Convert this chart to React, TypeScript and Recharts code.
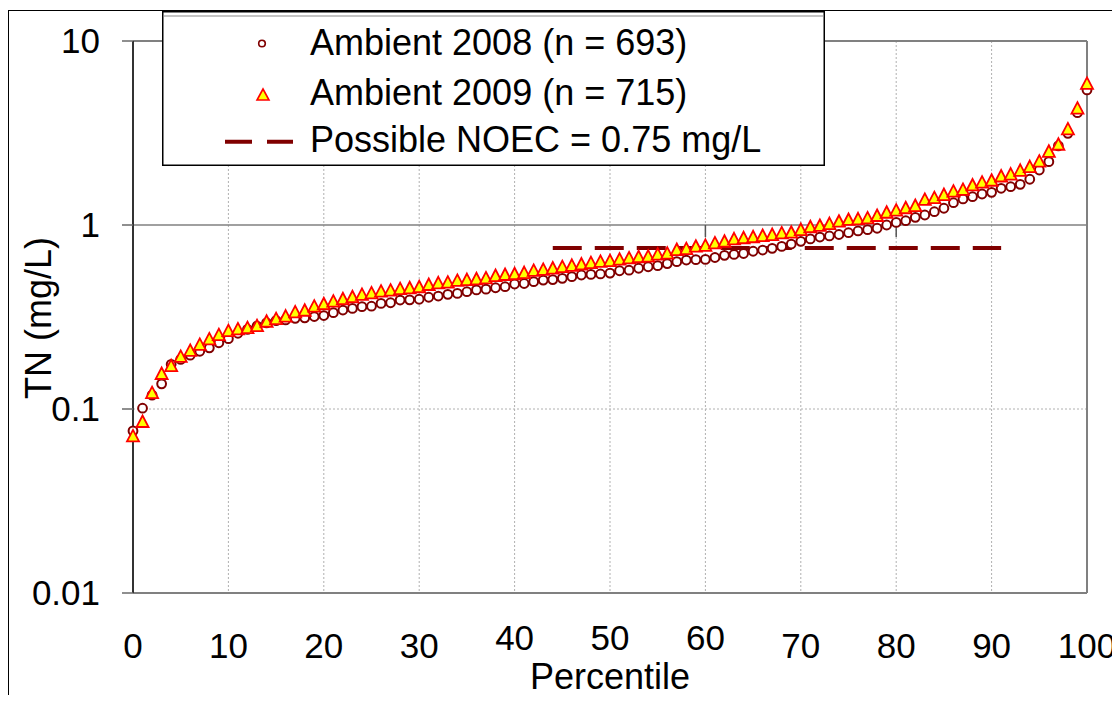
import { ScatterChart, Scatter, XAxis, YAxis, CartesianGrid, ReferenceLine, Legend } from 'recharts';

// TN percentiles (index = percentile 0..100)
const AMBIENT_2008 = [
  0.076, 0.101, 0.119, 0.137, 0.175, 0.186, 0.196, 0.206, 0.215, 0.229,
  0.241, 0.258, 0.271, 0.282, 0.294, 0.302, 0.305, 0.311, 0.313, 0.318,
  0.322, 0.334, 0.345, 0.352, 0.36, 0.362, 0.375, 0.378, 0.391, 0.392,
  0.395, 0.405, 0.411, 0.42, 0.425, 0.434, 0.444, 0.448, 0.456, 0.462,
  0.478, 0.481, 0.492, 0.502, 0.505, 0.513, 0.524, 0.535, 0.539, 0.542,
  0.548, 0.564, 0.568, 0.582, 0.593, 0.601, 0.617, 0.632, 0.645, 0.648,
  0.65, 0.666, 0.684, 0.692, 0.7, 0.72, 0.731, 0.747, 0.765, 0.788,
  0.815, 0.84, 0.86, 0.872, 0.888, 0.908, 0.928, 0.943, 0.96, 1.0,
  1.033, 1.055, 1.101, 1.133, 1.181, 1.233, 1.322, 1.385, 1.425, 1.474,
  1.505, 1.583, 1.615, 1.664, 1.773, 1.99, 2.21, 2.69, 3.15, 4.08,
  5.42,
];

const AMBIENT_2009 = [
  0.071, 0.085, 0.122, 0.155, 0.171, 0.192, 0.207, 0.223, 0.239, 0.252,
  0.265, 0.271, 0.275, 0.282, 0.298, 0.308, 0.318, 0.335, 0.342, 0.36,
  0.371, 0.383, 0.395, 0.405, 0.417, 0.425, 0.434, 0.44, 0.448, 0.453,
  0.459, 0.472, 0.482, 0.486, 0.497, 0.502, 0.507, 0.513, 0.528, 0.535,
  0.54, 0.548, 0.563, 0.57, 0.58, 0.59, 0.6, 0.61, 0.621, 0.63,
  0.636, 0.648, 0.659, 0.668, 0.673, 0.69, 0.699, 0.731, 0.739, 0.762,
  0.77, 0.795, 0.811, 0.836, 0.847, 0.858, 0.871, 0.882, 0.901, 0.908,
  0.939, 0.972, 0.988, 1.012, 1.042, 1.065, 1.074, 1.087, 1.119, 1.166,
  1.196, 1.233, 1.268, 1.37, 1.4, 1.455, 1.517, 1.553, 1.64, 1.7,
  1.74, 1.835, 1.88, 1.97, 2.065, 2.21, 2.5, 2.73, 3.31, 4.29,
  5.85,
];

const NOEC_VALUE = 0.75;
const NOEC_FROM = 44;
const NOEC_TO = 91;

const X_TICKS = [0, 10, 20, 30, 40, 50, 60, 70, 80, 90, 100];
const RAISED_X_TICKS = [40, 50, 60];
const Y_TICKS = [0.01, 0.1, 1, 10];
const STUB_TICKS = [60, 80];

const LABEL_2008 = 'Ambient 2008 (n = 693)';
const LABEL_2009 = 'Ambient 2009 (n = 715)';
const LABEL_NOEC = 'Possible NOEC = 0.75 mg/L';

const FONT = '"Liberation Sans", Arial, sans-serif';
const DARK_RED = '#800000';

const data2008 = AMBIENT_2008.map((v, i) => ({ p: i, v }));
const data2009 = AMBIENT_2009.map((v, i) => ({ p: i, v }));

const CircleDot = (props: any) => {
  const { cx, cy } = props;
  return <circle cx={cx} cy={cy} r={4.4} fill="#fff" stroke={DARK_RED} strokeWidth={2} />;
};

const TriangleDot = (props: any) => {
  const { cx, cy } = props;
  return (
    <polygon
      points={`${cx},${cy - 6.5} ${cx + 6},${cy + 5} ${cx - 6},${cy + 5}`}
      fill="#FFFF00"
      stroke="#FF0000"
      strokeWidth={1.8}
    />
  );
};

const XTick = (props: any) => {
  const { x, y, payload } = props;
  const raised = RAISED_X_TICKS.includes(payload.value);
  return (
    <text x={x} y={y + (raised ? 57 : 65)} textAnchor="middle" fontSize={35} fill="#000" fontFamily={FONT}>
      {payload.value}
    </text>
  );
};

const YLabel = (props: any) => {
  const vb = props.viewBox || { x: 0, y: 41, height: 552 };
  const cx = vb.x + 38;
  const cy = vb.y + vb.height / 2 + 1;
  return (
    <text
      x={cx}
      y={cy}
      transform={`rotate(-90, ${cx}, ${cy})`}
      textAnchor="middle"
      dominantBaseline="central"
      fontSize={36}
      fill="#000"
      fontFamily={FONT}
    >
      TN (mg/L)
    </text>
  );
};

const LegendBox = () => (
  <svg width={663} height={155} style={{ display: 'block' }}>
    <rect x={0.75} y={0.75} width={661.5} height={153.5} fill="#fff" stroke="#000" strokeWidth={1.5} />
    <line x1={1.5} x2={661.5} y1={5} y2={5} stroke="#888" strokeWidth={1.2} />
    <circle cx={100} cy={32.5} r={3.3} fill="#fff" stroke={DARK_RED} strokeWidth={1.6} />
    <polygon points="101,78 107,89 95,89" fill="#FFFF00" stroke="#FF0000" strokeWidth={1.6} />
    <line x1={63} x2={131} y1={130.7} y2={130.7} stroke={DARK_RED} strokeWidth={4} strokeDasharray="27 15" />
    <text x={148} y={44} fontSize={36} fontFamily={FONT} fill="#000">{LABEL_2008}</text>
    <text x={148} y={94} fontSize={36} fontFamily={FONT} fill="#000">{LABEL_2009}</text>
    <text x={148} y={141} fontSize={36} fontFamily={FONT} fill="#000">{LABEL_NOEC}</text>
  </svg>
);

export default function App() {
  return (
    <div
      style={{
        position: 'relative',
        width: 1120,
        height: 703,
        margin: -8,
        overflow: 'hidden',
        background: '#fff',
        fontFamily: FONT,
      }}
    >
      <div
        style={{
          position: 'absolute',
          left: 7,
          top: 10,
          width: 1130,
          height: 720,
          borderLeft: '2px solid #000',
          borderTop: '1.5px solid #000',
        }}
      />
      <div style={{ position: 'absolute', left: 0, top: 0 }}>
        <ScatterChart width={1120} height={703} margin={{ top: 41, right: 33, bottom: 0, left: 0 }}>
          <CartesianGrid
            horizontal={false}
            vertical
            stroke="#b0b0b0"
            strokeDasharray="2 2"
            strokeWidth={1}
          />
          <XAxis
            type="number"
            dataKey="p"
            domain={[0, 100]}
            ticks={X_TICKS}
            interval={0}
            height={110}
            tickSize={0}
            tickMargin={0}
            tickLine={false}
            axisLine={{ stroke: '#808080', strokeWidth: 2 }}
            tick={<XTick />}
            label={{ value: 'Percentile', position: 'insideBottom', offset: 14, fontSize: 36, fill: '#000', fontFamily: FONT }}
          />
          <YAxis
            type="number"
            dataKey="v"
            scale="log"
            domain={[0.01, 10]}
            allowDataOverflow
            ticks={Y_TICKS}
            interval={0}
            width={133}
            tickSize={11}
            tickMargin={22}
            tickLine={{ stroke: '#6a6a6a', strokeWidth: 1.5 }}
            axisLine={{ stroke: '#333', strokeWidth: 2 }}
            tick={{ fontSize: 35, fill: '#000', fontFamily: FONT }}
            label={YLabel}
          />
          <ReferenceLine y={10} stroke="#808080" strokeWidth={2} />
          <ReferenceLine y={1} stroke="#808080" strokeWidth={1.5} />
          <ReferenceLine y={0.1} stroke="#b0b0b0" strokeWidth={1} strokeDasharray="2 2" />
          <ReferenceLine x={100} stroke="#808080" strokeWidth={2} />
          {STUB_TICKS.map((p) => (
            <ReferenceLine
              key={p}
              segment={[{ x: p, y: 1 }, { x: p, y: 0.86 }]}
              stroke="#555"
              strokeWidth={1.5}
            />
          ))}
          <ReferenceLine
            segment={[{ x: NOEC_FROM, y: NOEC_VALUE }, { x: NOEC_TO, y: NOEC_VALUE }]}
            stroke={DARK_RED}
            strokeWidth={4}
            strokeDasharray="29 13"
          />
          <Scatter
            name={LABEL_2008}
            data={data2008}
            shape={CircleDot}
            isAnimationActive={false}
          />
          <Scatter
            name={LABEL_2009}
            data={data2009}
            shape={TriangleDot}
            isAnimationActive={false}
          />
          <Legend
            layout="horizontal"
            align="center"
            verticalAlign="middle"
            content={LegendBox}
            wrapperStyle={{ left: 162, top: 11, width: 663, height: 155, bottom: 'auto', right: 'auto' }}
          />
        </ScatterChart>
      </div>
    </div>
  );
}
